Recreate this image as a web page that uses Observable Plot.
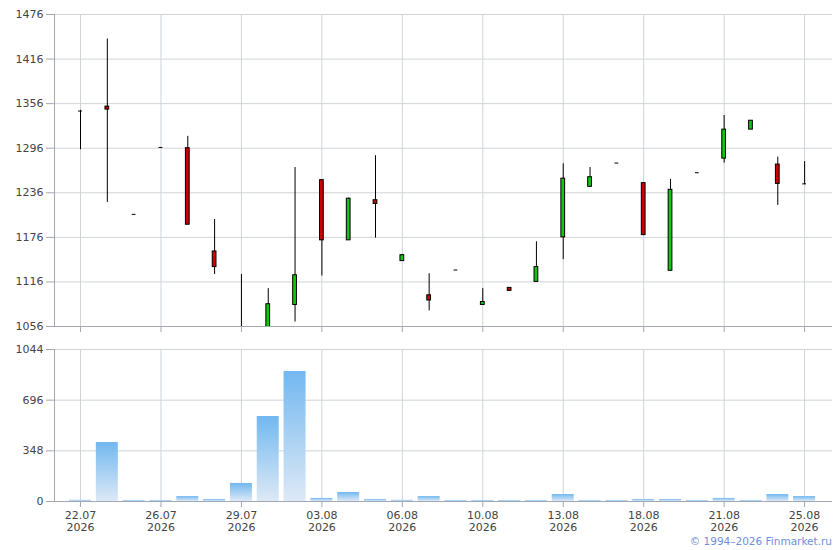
<!DOCTYPE html>
<html><head><meta charset="utf-8">
<script src="https://cdn.jsdelivr.net/npm/d3@7"></script>
<script src="https://cdn.jsdelivr.net/npm/@observablehq/plot@0.6"></script>
<style>
body{margin:0;background:#fff;font-family:"DejaVu Sans",Verdana,sans-serif;}
#chart{width:840px;}
.caption{width:832px;text-align:right;font-size:10.5px;color:#6f8fdc;line-height:13px;font-family:"DejaVu Sans",Verdana,sans-serif;}
</style></head><body><div id="chart"></div>
<script>
const dates = ["22.07","23.07","24.07","26.07","27.07","28.07","29.07","30.07","31.07","03.08","04.08","05.08","06.08","07.08","08.08","10.08","11.08","12.08","13.08","14.08","17.08","18.08","19.08","20.08","21.08","22.08","24.08","25.08"];
const yearLabel = "2026";
const open  = [1346,1352,1207,1297,1296,1157,1048,1045,1085,1253,1172,1226,1144,1098,1132,1085,1108,1116,1176,1244,1276,1249,1131,1263,1282,1321,1274,1248];
const high  = [1347,1443,1207,1297,1312,1200,1126,1107,1270,1253,1229,1286,1153,1127,1132,1107,1108,1170,1275,1270,1276,1249,1254,1263,1340,1333,1284,1278];
const low   = [1294,1223,1207,1297,1193,1126,1040,1040,1062,1124,1172,1175,1144,1077,1132,1085,1104,1116,1146,1244,1276,1179,1131,1263,1276,1321,1219,1247];
const close = [1346,1348,1207,1297,1193,1136,1045,1086,1125,1172,1228,1221,1152,1091,1132,1089,1104,1136,1255,1257,1276,1179,1240,1263,1321,1333,1248,1248];
const volume = [8,405,7,7,34,14,124,584,893,21,62,14,8,34,7,7,7,7,48,7,7,14,14,7,21,7,48,34];
const priceTicks = [1056,1116,1176,1236,1296,1356,1416,1476];
const volTicks = [0,348,696,1044];

const candles = dates.map((d,i)=>({i, date:d, open:open[i], high:high[i], low:low[i], close:close[i], vol:volume[i]}));
const xTicks = candles.map(d=>d.i).filter(i=>i%3===0);
const xDomain = [-0.97, 28.04];
const gridC = "#cfd4d9", axisC = "#a3a7b3", textC = "#444";
const style = {fontFamily:"DejaVu Sans, Verdana, sans-serif", fontSize:"11px", color:textC, background:"white", display:"block"};
const bw = 0.07, vw = 0.41;

const topPlot = Plot.plot({
  width:840, height:340, marginLeft:54, marginRight:8, marginTop:14, marginBottom:14,
  style,
  x:{type:"linear", domain:xDomain, label:null},
  y:{domain:[1056,1476], label:null},
  marks:[
    Plot.gridY(priceTicks, {stroke:gridC, strokeOpacity:1}),
    Plot.gridX(xTicks, {stroke:gridC, strokeOpacity:1}),
    Plot.axisY(priceTicks, {tickSize:8, tickPadding:3, stroke:axisC, fill:textC, label:null, tickFormat:d=>String(d)}),
    Plot.axisX(xTicks, {tickSize:6, stroke:axisC, label:null, tickFormat:()=>""}),
    Plot.ruleX(candles, {x:"i", y1:"low", y2:"high", stroke:"black", strokeWidth:1, clip:true}),
    Plot.rect(candles.filter(d=>d.close>d.open), {x1:d=>d.i-bw, x2:d=>d.i+bw, y1:"open", y2:"close", fill:"#11c611", stroke:"black", strokeWidth:1, clip:true}),
    Plot.rect(candles.filter(d=>d.close<d.open), {x1:d=>d.i-bw, x2:d=>d.i+bw, y1:"open", y2:"close", fill:"#cc0000", stroke:"black", strokeWidth:1, clip:true}),
    Plot.ruleY(candles.filter(d=>d.close===d.open), {y:"close", x1:d=>d.i-bw, x2:d=>d.i+bw, stroke:"black", strokeWidth:1, clip:true}),
    Plot.ruleX([xDomain[0]], {stroke:axisC}),
    Plot.ruleY([1056], {stroke:axisC})
  ]
});

const bottomPlot = Plot.plot({
  width:840, height:195, marginLeft:54, marginRight:8, marginTop:9, marginBottom:34,
  style,
  x:{type:"linear", domain:xDomain, label:null},
  y:{domain:[0,1044], label:null},
  marks:[
    Plot.gridY(volTicks, {stroke:gridC, strokeOpacity:1}),
    Plot.gridX(xTicks, {stroke:gridC, strokeOpacity:1}),
    Plot.axisY(volTicks, {tickSize:8, tickPadding:3, stroke:axisC, fill:textC, label:null, tickFormat:d=>String(d)}),
    Plot.axisX(xTicks, {tickSize:6, tickPadding:3, stroke:axisC, fill:textC, label:null, lineHeight:1.1, tickFormat:i=>dates[i]+"\n"+yearLabel}),
    Plot.rectY(candles, {x1:d=>d.i-vw, x2:d=>d.i+vw, y1:0, y2:"vol", fill:"url(#volgrad)"}),
    Plot.ruleX([xDomain[0]], {stroke:axisC}),
    Plot.ruleY([0], {stroke:axisC})
  ]
});

const defs = d3.select(bottomPlot).insert("defs", ":first-child");
const g = defs.append("linearGradient").attr("id","volgrad").attr("x1",0).attr("y1",0).attr("x2",0).attr("y2",1);
g.append("stop").attr("offset","0%").attr("stop-color","#72b8f0");
g.append("stop").attr("offset","100%").attr("stop-color","#dde9f6");

const chart = document.getElementById("chart");
chart.appendChild(topPlot);
chart.appendChild(bottomPlot);
const cap = document.createElement("div");
cap.className = "caption";
cap.textContent = "© 1994–2026 Finmarket.ru";
chart.appendChild(cap);
</script>
</body></html>
